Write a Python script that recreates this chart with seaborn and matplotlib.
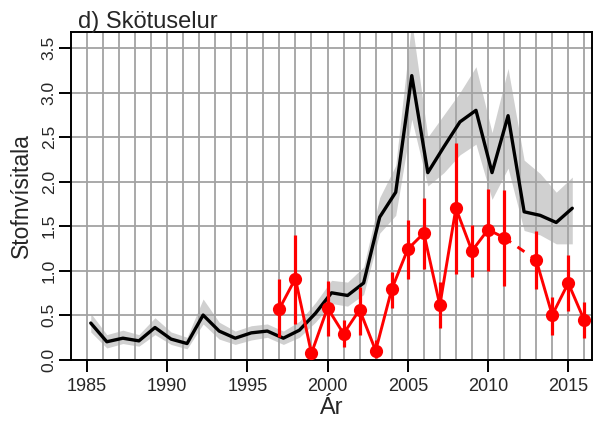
import numpy as np
import pandas as pd
import matplotlib
matplotlib.use("Agg")
import matplotlib.pyplot as plt
import seaborn as sns

# haustrall (svört lína + grátt öryggisbil)
years_autumn = list(range(1985, 2016))
index_autumn = [0.41, 0.20, 0.24, 0.21, 0.36, 0.23, 0.18, 0.50, 0.32, 0.24,
                0.30, 0.32, 0.24, 0.33, 0.52, 0.75, 0.72, 0.86, 1.60, 1.88,
                3.19, 2.10, 2.39, 2.67, 2.80, 2.10, 2.74, 1.66, 1.62, 1.54,
                1.70]
lower_autumn = [0.31, 0.13, 0.18, 0.15, 0.28, 0.17, 0.12, 0.40, 0.23, 0.17,
                0.22, 0.25, 0.17, 0.25, 0.42, 0.63, 0.60, 0.73, 1.42, 1.62,
                2.70, 1.95, 2.10, 2.30, 2.42, 1.80, 2.15, 1.45, 1.40, 1.30,
                1.30]
upper_autumn = [0.52, 0.28, 0.33, 0.28, 0.47, 0.31, 0.25, 0.68, 0.42, 0.32,
                0.38, 0.40, 0.32, 0.43, 0.64, 0.89, 0.87, 1.04, 1.82, 2.18,
                3.80, 2.50, 2.75, 3.00, 3.29, 2.55, 3.27, 2.24, 2.09, 1.88,
                2.05]
offset_autumn = 0.25

# stofnmæling (rauðir punktar), 2012 vantar
years_spring = list(range(1997, 2017))
index_spring = [0.57, 0.91, 0.07, 0.58, 0.29, 0.56, 0.10, 0.79, 1.24, 1.42,
                0.61, 1.70, 1.22, 1.46, 1.37, np.nan, 1.12, 0.50, 0.86, 0.44]
lower_spring = [0.25, 0.40, 0.00, 0.27, 0.14, 0.28, 0.02, 0.58, 0.90, 1.02,
                0.36, 0.96, 0.93, 1.00, 0.83, np.nan, 0.79, 0.28, 0.54, 0.24]
upper_spring = [0.90, 1.40, 0.14, 0.88, 0.44, 0.82, 0.22, 0.98, 1.57, 1.81,
                0.87, 2.43, 1.51, 1.92, 1.91, np.nan, 1.44, 0.70, 1.18, 0.65]

xtick_years = list(range(1985, 2016, 5))
ytick_vals = [0.0, 0.5, 1.0, 1.5, 2.0, 2.5, 3.0, 3.5]

sns.set_style("ticks")
plt.rcParams["font.family"] = ["Liberation Sans", "DejaVu Sans"]
narrow = ["Liberation Sans Narrow", "Liberation Sans", "DejaVu Sans"]

fig = plt.figure(figsize=(5.98, 4.23), dpi=100)
ax = fig.add_axes([70.7 / 598, 1 - 360 / 423, 521 / 598, 328 / 423])
ax.set_axisbelow("line")

x_aut = np.array(years_autumn) + offset_autumn
ax.fill_between(x_aut, lower_autumn, upper_autumn, color="#d0d0d0", lw=0, zorder=1)
sns.lineplot(x=x_aut, y=index_autumn, color="black", lw=2.4, ax=ax, zorder=3)

df = pd.DataFrame({"ar": years_spring, "visitala": index_spring,
                   "lo": lower_spring, "hi": upper_spring})
df["bil"] = df["visitala"].isna().cumsum()
ok = df.dropna()
ax.vlines(ok["ar"], ok["lo"], ok["hi"], color="red", lw=2.3, zorder=4)
# punktar beggja vegna við eyðu tengdir með brotalínu
for i in np.where(df["visitala"].isna())[0]:
    a, b = df.iloc[i - 1], df.iloc[i + 1]
    ax.plot([a["ar"], b["ar"]], [a["visitala"], b["visitala"]], color="red",
            lw=2.1, ls=(0, (2.9, 2.7)), zorder=4)
sns.lineplot(data=ok, x="ar", y="visitala", units="bil", estimator=None,
             color="red", lw=2.1, marker="o", markersize=9.5, markeredgewidth=0,
             ax=ax, zorder=5)

ax.set_xlim(1984.0, 2016.46)
ax.set_ylim(-0.005, 3.68)
ax.set_xticks(xtick_years)
ax.set_xticks(range(1985, 2017), minor=True)
ax.set_yticks(ytick_vals)
ax.set_yticklabels([f"{v:.1f}" for v in ytick_vals], rotation=90, va="center",
                   family=narrow, fontsize=12.5)
ax.tick_params(axis="x", which="major", length=8.5, width=1.4, pad=4.5,
               labelsize=13, color="black")
ax.tick_params(axis="x", which="minor", length=0)
ax.tick_params(axis="y", length=8.5, width=1.4, pad=1.5, color="black")
ax.grid(True, axis="x", which="both", color="#a3a3a3", lw=1.3)
ax.grid(True, axis="y", which="major", color="#a3a3a3", lw=1.3)
for s in ax.spines.values():
    s.set_color("black")
    s.set_linewidth(1.4)

ax.set_xlabel("Ár", fontsize=17)
ax.xaxis.set_label_coords(0.5, -0.112)
ax.set_ylabel("Stofnvísitala", fontsize=16.5, family=narrow)
ax.yaxis.set_label_coords(-0.073, 0.5)

fig.text(78.3 / 598, 1 - 28.3 / 423, "d) Skötuselur", fontsize=17,
         ha="left", va="baseline")

fig.savefig("out.png", dpi=100)
